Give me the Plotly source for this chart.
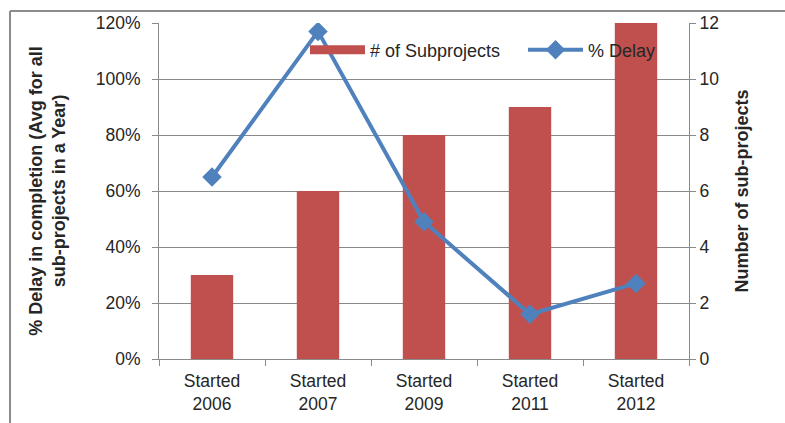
import plotly.graph_objects as go

categories = ["Started<br>2006", "Started<br>2007", "Started<br>2009", "Started<br>2011", "Started<br>2012"]
subprojects = [3, 6, 8, 9, 12]
delay_pct = [0.65, 1.17, 0.49, 0.16, 0.27]

BAR_COLOR = "#C0504D"
LINE_COLOR = "#4F81BD"
GRID = "#8a8a8a"
TXT = "#262626"
FONT = "Liberation Sans, Arial, sans-serif"

W, H = 785, 423
L, R, T, B = 159, 96, 23, 64
pw, ph = W - L - R, H - T - B

def px_x(px):
    return (px - L) / pw

def px_y(py):
    return (H - B - py) / ph

fig = go.Figure()

fig.add_trace(go.Bar(
    x=categories, y=subprojects, name="# of Subprojects",
    marker=dict(color=BAR_COLOR, line=dict(width=0)),
    yaxis="y", showlegend=False,
))
# legend proxy for bar (Excel-style wide rectangle)
fig.add_trace(go.Scatter(
    x=[None], y=[None], mode="lines", name="# of Subprojects",
    line=dict(color=BAR_COLOR, width=9), yaxis="y",
))
fig.add_trace(go.Scatter(
    x=categories, y=delay_pct, name="% Delay", mode="lines+markers",
    line=dict(color=LINE_COLOR, width=4),
    marker=dict(symbol="diamond", size=15, color=LINE_COLOR),
    yaxis="y2",
))

fig.update_layout(
    width=W, height=H,
    margin=dict(l=L, r=R, t=T, b=B, autoexpand=False),
    paper_bgcolor="white", plot_bgcolor="white",
    font=dict(family=FONT, size=17, color=TXT),
    bargap=0.6,
    xaxis=dict(
        type="category", showline=True, linecolor=GRID, linewidth=1,
        ticks="outside", tickson="boundaries", ticklen=6, tickcolor=GRID,
        ticklabelstandoff=6, automargin=False,
        showgrid=False, tickfont=dict(size=17.5, color=TXT),
    ),
    yaxis=dict(
        side="right", range=[0, 12], dtick=2, tick0=0,
        showline=True, linecolor=GRID, linewidth=1,
        ticks="outside", ticklen=6, tickcolor=GRID,
        showgrid=True, gridcolor=GRID, gridwidth=1, zeroline=False,
        tickfont=dict(size=17.5, color=TXT), automargin=False,
        title=dict(text="<b>Number of sub-projects</b>", font=dict(size=18, color=TXT), standoff=17),
    ),
    yaxis2=dict(
        overlaying="y", side="left", range=[0, 1.2], dtick=0.2, tick0=0,
        tickformat=".0%", showgrid=False, zeroline=False,
        showline=True, linecolor=GRID, linewidth=1,
        ticks="outside", ticklen=6, tickcolor=GRID,
        ticklabelstandoff=8, automargin=False,
        tickfont=dict(size=17.5, color=TXT),
        title=dict(text="<b>% Delay in completion (Avg for all<br>sub-projects in a Year)</b>",
                   font=dict(size=18, color=TXT), standoff=25),
    ),
    legend=dict(
        orientation="h", x=px_x(305), y=px_y(50), xanchor="left", yanchor="middle",
        bgcolor="rgba(0,0,0,0)", borderwidth=0, itemwidth=55,
        font=dict(size=18, color=TXT), entrywidth=148,
    ),
    shapes=[
        dict(type="line", xref="paper", yref="paper", x0=px_x(10), x1=px_x(785),
             y0=px_y(11), y1=px_y(11), line=dict(color="#8c8c8c", width=2)),
        dict(type="line", xref="paper", yref="paper", x0=px_x(10), x1=px_x(10),
             y0=px_y(11), y1=px_y(423), line=dict(color="#8c8c8c", width=2)),
    ],
)

fig.write_html("out.html")
